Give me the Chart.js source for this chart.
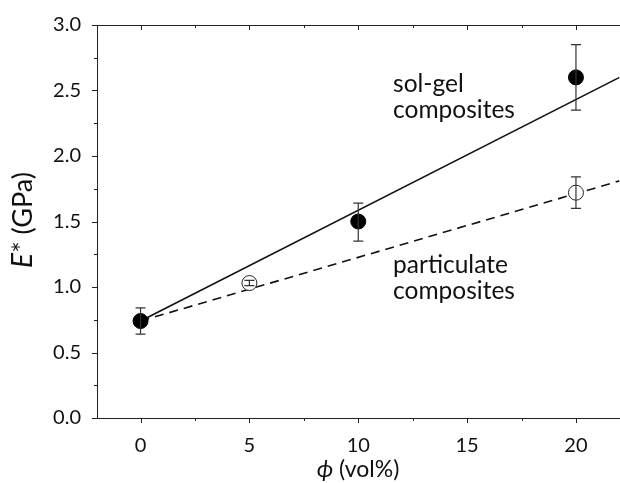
<!DOCTYPE html>
<html>
<head>
<meta charset="utf-8">
<script src="https://cdn.jsdelivr.net/npm/chart.js@4.4.1/dist/chart.umd.min.js"></script>
<style>
  html, body { margin: 0; padding: 0; background: #fff; overflow: hidden; }
  #wrap { width: 680px; height: 483px; }
  canvas { display: block; }
</style>
</head>
<body>
<div id="wrap"><canvas id="chart" width="620" height="483"></canvas></div>
<script>
// datos
const xTicks = [0, 5, 10, 15, 20];
const xMinorTicks = [-2.5, 2.5, 7.5, 12.5, 17.5];
const yTicks = [0, 0.5, 1.0, 1.5, 2.0, 2.5, 3.0];
const yMinorTicks = [0.25, 0.75, 1.25, 1.75, 2.25, 2.75];

const solGelX = [0, 10, 20];
const solGelY = [0.74, 1.50, 2.60];
const solGelErrLow = [0.10, 0.15, 0.25];
const solGelErrHigh = [0.10, 0.14, 0.25];

const partX = [5, 20];
const partY = [1.03, 1.72];
const partErrLow = [0.02, 0.12];
const partErrHigh = [0.02, 0.12];

// rectas de ajuste
const solGelFitX = [0, 22];
const solGelFitY = [0.74, 2.60];
const partFitX = [0, 22];
const partFitY = [0.74, 1.81];

const FONT = "Lato, 'Open Sans', sans-serif";

function pts(xs, ys) {
    return xs.map((x, i) => ({ x: x, y: ys[i] }));
}

// barras de error, dibujadas encima de los marcadores
const errorBars = {
    id: 'errorBars',
    afterDatasetsDraw(chart) {
        const ctx = chart.ctx;
        const xs = chart.scales.x, ys = chart.scales.y;
        ctx.save();
        ctx.strokeStyle = '#333';
        ctx.lineWidth = 1.2;
        chart.data.datasets.forEach(ds => {
            if (!ds.errLow) return;
            ds.data.forEach((p, i) => {
                const px = xs.getPixelForValue(p.x);
                const top = ys.getPixelForValue(p.y + ds.errHigh[i]);
                const bot = ys.getPixelForValue(p.y - ds.errLow[i]);
                ctx.beginPath();
                ctx.moveTo(px, top); ctx.lineTo(px, bot);
                ctx.moveTo(px - 5, top); ctx.lineTo(px + 5, top);
                ctx.moveTo(px - 5, bot); ctx.lineTo(px + 5, bot);
                ctx.stroke();
            });
        });
        ctx.restore();
    }
};

// marcas de los ejes, marco superior, titulos y textos
const axesDeco = {
    id: 'axesDeco',
    afterDraw(chart) {
        const ctx = chart.ctx;
        const a = chart.chartArea;
        const xs = chart.scales.x, ys = chart.scales.y;
        ctx.save();
        ctx.strokeStyle = '#222';
        ctx.lineWidth = 1;
        // linea superior
        ctx.beginPath();
        ctx.moveTo(a.left, a.top + 0.5); ctx.lineTo(a.right + 2, a.top + 0.5);
        ctx.stroke();
        ctx.beginPath();
        xTicks.forEach(v => {
            const px = Math.round(xs.getPixelForValue(v)) + 0.5;
            ctx.moveTo(px, a.bottom); ctx.lineTo(px, a.bottom + 5);
            ctx.moveTo(px, a.top); ctx.lineTo(px, a.top + 5);
        });
        xMinorTicks.forEach(v => {
            if (v < xs.min) return;
            const px = Math.round(xs.getPixelForValue(v)) + 0.5;
            ctx.moveTo(px, a.bottom); ctx.lineTo(px, a.bottom + 3);
            ctx.moveTo(px, a.top); ctx.lineTo(px, a.top + 3);
        });
        yTicks.forEach(v => {
            const py = Math.round(ys.getPixelForValue(v)) + 0.5;
            ctx.moveTo(a.left, py); ctx.lineTo(a.left - 5, py);
        });
        yMinorTicks.forEach(v => {
            const py = Math.round(ys.getPixelForValue(v)) + 0.5;
            ctx.moveTo(a.left, py); ctx.lineTo(a.left - 3, py);
        });
        ctx.stroke();

        ctx.fillStyle = '#111';
        // titulo eje x
        ctx.textBaseline = 'alphabetic';
        ctx.textAlign = 'left';
        const xt1 = '\u03d5';
        const xt2 = ' (vol%)';
        ctx.font = 'italic 24px ' + FONT;
        const w1 = ctx.measureText(xt1).width;
        ctx.font = '23px ' + FONT;
        const w2 = ctx.measureText(xt2).width;
        let sx = 358 - (w1 + w2) / 2;
        ctx.font = 'italic 24px ' + FONT;
        ctx.fillText(xt1, sx, 477);
        ctx.font = '23px ' + FONT;
        ctx.fillText(xt2, sx + w1, 477);

        // titulo eje y
        ctx.translate(32, 220);
        ctx.rotate(-Math.PI / 2);
        const yt1 = 'E';
        const yt2 = '* (GPa)';
        ctx.font = 'italic 28px ' + FONT;
        const v1 = ctx.measureText(yt1).width;
        ctx.font = '27px ' + FONT;
        const v2 = ctx.measureText(yt2).width;
        sx = -(v1 + v2) / 2;
        ctx.font = 'italic 28px ' + FONT;
        ctx.fillText(yt1, sx, 0);
        ctx.font = '27px ' + FONT;
        ctx.fillText(yt2, sx + v1, 0);
        ctx.setTransform(1, 0, 0, 1, 0, 0);

        // textos de las series
        ctx.font = '24.5px ' + FONT;
        const lx = xs.getPixelForValue(11.6);
        ctx.fillText('sol-gel', lx, ys.getPixelForValue(2.49));
        ctx.fillText('composites', lx, ys.getPixelForValue(2.29));
        ctx.fillText('particulate', lx, ys.getPixelForValue(1.11));
        ctx.fillText('composites', lx, ys.getPixelForValue(0.905));
        ctx.restore();
    }
};

const chart = new Chart(document.getElementById('chart'), {
    type: 'scatter',
    data: {
        datasets: [
            {
                label: 'sol-gel (ajuste)',
                data: pts(solGelFitX, solGelFitY),
                showLine: true,
                borderColor: '#111',
                borderWidth: 1.6,
                pointRadius: 0,
                order: 3
            },
            {
                label: 'particulate (ajuste)',
                data: pts(partFitX, partFitY),
                showLine: true,
                borderColor: '#111',
                borderWidth: 1.6,
                borderDash: [9, 6],
                pointRadius: 0,
                order: 4
            },
            {
                label: 'particulate composites',
                data: pts(partX, partY),
                errLow: partErrLow,
                errHigh: partErrHigh,
                backgroundColor: '#fff',
                borderColor: '#222',
                borderWidth: 1,
                pointRadius: 7.5,
                order: 2
            },
            {
                label: 'sol-gel composites',
                data: pts(solGelX, solGelY),
                errLow: solGelErrLow,
                errHigh: solGelErrHigh,
                backgroundColor: '#000',
                borderColor: '#000',
                borderWidth: 1,
                pointRadius: 7.5,
                order: 1
            }
        ]
    },
    options: {
        responsive: false,
        maintainAspectRatio: false,
        animation: false,
        layout: { padding: { left: 0, right: 0, top: 25, bottom: 0 } },
        plugins: {
            legend: { display: false },
            tooltip: { enabled: false }
        },
        scales: {
            x: {
                type: 'linear',
                min: -2,
                max: 22,
                afterBuildTicks: s => { s.ticks = xTicks.map(v => ({ value: v })); },
                afterFit: s => { s.height = 65; s.paddingLeft = 0; s.paddingRight = 0; },
                grid: { display: false },
                border: { display: true, color: '#222', width: 1 },
                ticks: {
                    padding: 8,
                    color: '#111',
                    font: { family: FONT, size: 20 }
                }
            },
            y: {
                type: 'linear',
                min: 0,
                max: 3,
                afterBuildTicks: s => { s.ticks = yTicks.map(v => ({ value: v })); },
                afterFit: s => { s.width = 97; s.paddingTop = 0; s.paddingBottom = 0; },
                grid: { display: false },
                border: { display: true, color: '#222', width: 1 },
                ticks: {
                    padding: 8,
                    color: '#111',
                    font: { family: FONT, size: 20 },
                    callback: v => v.toFixed(1)
                }
            }
        }
    },
    plugins: [errorBars, axesDeco]
});

// el area del grafico debe acabar en x=619; el lienzo se agranda y la ventana recorta lo que sobra
for (let i = 0; i < 3; i++) {
    const falta = 619 - chart.chartArea.right;
    if (Math.abs(falta) < 0.5) break;
    chart.resize(Math.round(chart.width + falta), 483);
}
</script>
</body>
</html>
